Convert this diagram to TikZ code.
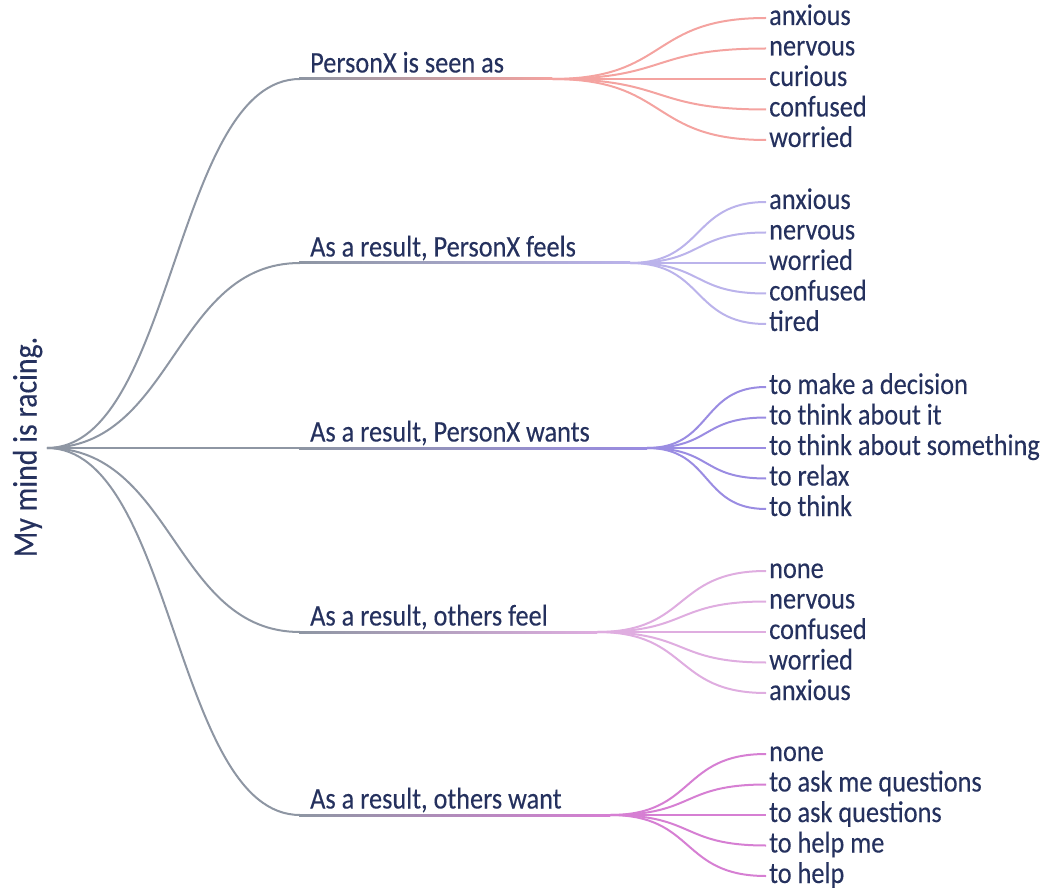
\documentclass[tikz,border=0pt]{standalone}
\usepackage{fontspec}
\setmainfont{Carlito}[FakeBold=0.25]
\usetikzlibrary{calc}
\definecolor{txt}{HTML}{25315E}
\definecolor{gr}{HTML}{8E96A3}
\definecolor{ca}{HTML}{F4A3A0}
\definecolor{cb}{HTML}{BBB3EB}
\definecolor{cc}{HTML}{9A8CE2}
\definecolor{cd}{HTML}{DFADE0}
\definecolor{ce}{HTML}{D67FD3}
\newcommand\talltext[1]{\scalebox{1}[1.14]{#1}}
\tikzset{
  lbl/.style={text=txt, inner sep=0pt},
  leaf/.style={text=txt, anchor=west, inner xsep=3pt, inner ysep=0pt, text height=17pt, text depth=3pt},
  rootlink/.style={draw=gr, line width=2pt},
  fanlink/.style={line width=2pt}
}
\begin{document}
\begin{tikzpicture}[x=1pt,y=-1pt,font=\fontsize{26.3}{30}\selectfont]
\useasboundingbox (0,0) rectangle (1044,890);
\node[lbl, rotate=90, anchor=base, font=\fontsize{29.8}{34}\selectfont] (root) at (36.5,447) {\talltext{My mind is racing.}};
\coordinate (r0) at (47,448);
\foreach \i/\y/\fx/\col/\lab/\leaves in {
  1/79/552/ca/{PersonX is seen as}/{anxious,nervous,curious,confused,worried},
  2/263/630/cb/{As a result, PersonX feels}/{anxious,nervous,worried,confused,tired},
  3/448/647/cc/{As a result, PersonX wants}/{to make a decision,to think about it,to think about something,to relax,to think},
  4/632/597/cd/{As a result, others feel}/{none,nervous,confused,worried,anxious},
  5/815/610/ce/{As a result, others want}/{none,to ask me questions,to ask questions,to help me,to help}}
{
  \coordinate (r\i) at (300,\y);
  \coordinate (f\i) at (\fx,\y);
  \node[lbl, anchor=base west] (b\i) at (310,{\y-6.5}) {\talltext{\lab}};
  \draw[rootlink] (r0) .. controls (174,448) and (174,\y) .. (r\i);
  \shade[left color=gr, right color=\col] (299,{\y-1}) rectangle (\fx,{\y+1});
  \foreach \w [count=\k] in \leaves {
    \node[leaf] (l\i-\k) at (766,{\y+(\k-3)*30.5}) {\talltext{\w}};
    \draw[fanlink, draw=\col] (f\i) .. controls ({\fx+0.55*(766-\fx)},\y) and ({766-0.55*(766-\fx)},{\y+(\k-3)*30.5}) .. (l\i-\k.west);
  }
}
\end{tikzpicture}
\end{document}
